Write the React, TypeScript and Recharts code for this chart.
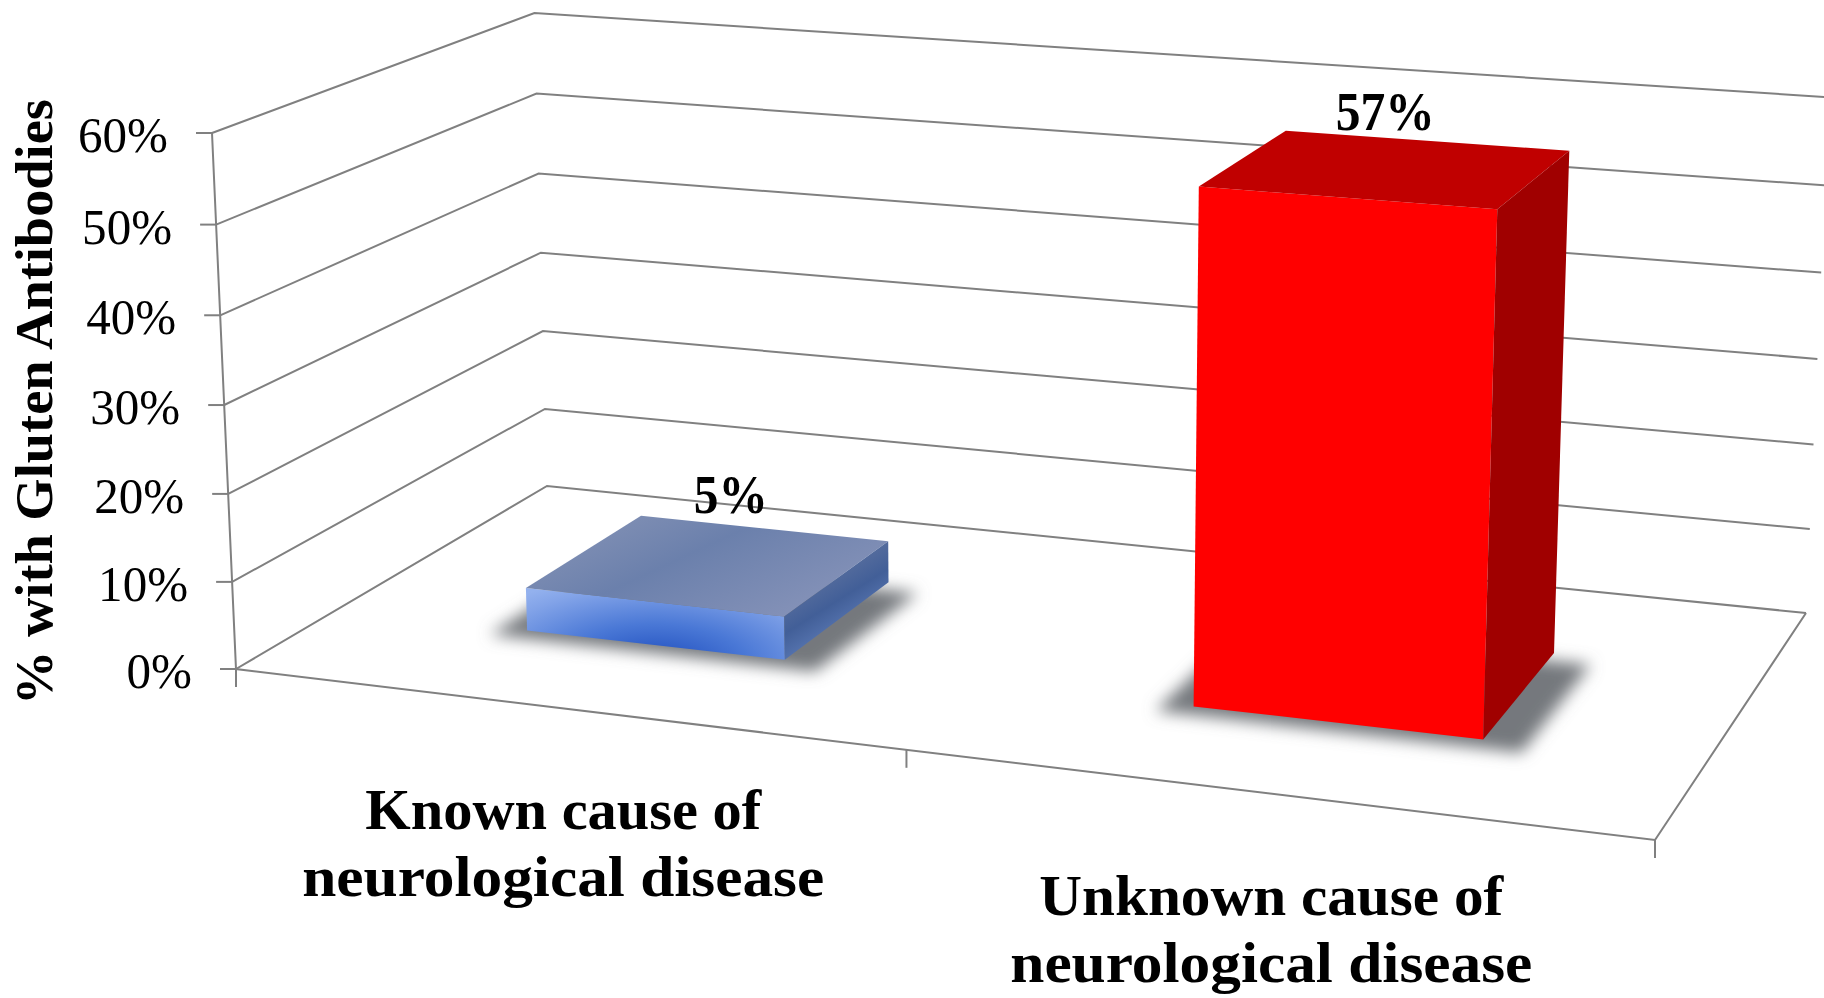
import React from "react";
import { BarChart, Bar, XAxis, YAxis, CartesianGrid, Customized, LabelList } from "recharts";

const categories = ["Known cause of\nneurological disease", "Unknown cause of\nneurological disease"];
const percentWithAntibodies = [5, 57];
const yTicks = [0, 10, 20, 30, 40, 50, 60];
const yTitle = "% with Gluten Antibodies";
const rows = categories.map((category, i) => ({ category, value: percentWithAntibodies[i] }));

const W = 1824;
const H = 998;
const PLOT_W = W - 1;
const PLOT_H = H - 1;
const FONT = "'Liberation Serif', serif";

// Perspective camera, calibrated on the corners of the chart box.
const FLOOR = { fl: [236, 669], fr: [1655, 840], br: [1806, 613], bl: [547, 486] };
const WALL_TOP_Y = 133;
const VERTICAL_VANISHING = [1020, 18180];
const HEIGHT_FALLOFF = 0.015;
const U_SHIFT = 0.003;
const DEPTH_FRONT = 0.3;
const DEPTH_BACK = 0.695;
const LABEL_DEPTH = 0.809;

const cam = (() => {
  const [x0, y0] = FLOOR.fl, [x1, y1] = FLOOR.fr, [x2, y2] = FLOOR.br, [x3, y3] = FLOOR.bl;
  const dx1 = x1 - x2, dx2 = x3 - x2, sx = x0 - x1 + x2 - x3;
  const dy1 = y1 - y2, dy2 = y3 - y2, sy = y0 - y1 + y2 - y3;
  const det = dx1 * dy2 - dx2 * dy1;
  const g = (sx * dy2 - dx2 * sy) / det;
  const h = (dx1 * sy - sx * dy1) / det;
  const a = x1 - x0 + g * x1, b = x3 - x0 + h * x3, c = x0;
  const d = y1 - y0 + g * y1, e = y3 - y0 + h * y3, f = y0;
  const Wv = (f - WALL_TOP_Y) / (WALL_TOP_Y - VERTICAL_VANISHING[1]);
  return { a, b, c, d, e, f, g, h, A: VERTICAL_VANISHING[0] * Wv, B: VERTICAL_VANISHING[1] * Wv, Wv };
})();

function project(u: number, depth: number, value: number): [number, number] {
  const v = value * (1 - HEIGHT_FALLOFF * u);
  const k = cam.g * u + cam.h * depth + 1 + cam.Wv * v;
  return [
    (cam.a * u + cam.b * depth + cam.c + cam.A * v) / k,
    (cam.d * u + cam.e * depth + cam.f + cam.B * v) / k,
  ];
}

const toU = (x: number) => (x - 1) / PLOT_W;
const toV = (y: number) => 1 - y / PLOT_H;

const pts = (list: [number, number][]) => list.map((p) => `${p[0].toFixed(1)},${p[1].toFixed(1)}`).join(" ");
const LINE = { stroke: "#808080", strokeWidth: 2, fill: "none" };

function GridLine(props: any) {
  const v = toV(props.y1);
  return <polyline {...LINE} points={pts([project(0, 0, v), project(0, 1, v), project(1, 1, v)])} />;
}

function Frame() {
  const tickUs = [0, 0.5 + U_SHIFT, 1];
  return (
    <g>
      <polyline {...LINE} points={pts([project(0, 0, 1), project(0, 0, 0), project(1, 0, 0), project(1, 1, 0)])} />
      {tickUs.map((u) => {
        const p = project(u, 0, 0);
        return <line key={u} x1={p[0]} y1={p[1]} x2={p[0]} y2={p[1] + 18} stroke="#808080" strokeWidth={2} />;
      })}
      {yTicks.map((t) => {
        const p = project(0, 0, t / 60);
        return <line key={t} x1={p[0] - 16} y1={p[1]} x2={p[0]} y2={p[1]} stroke="#808080" strokeWidth={2} />;
      })}
    </g>
  );
}

function YTick(props: any) {
  const v = toV(props.y);
  const p = project(0, 0, v);
  const s = `${props.payload.value}%`;
  return (
    <text x={p[0] - 44} y={p[1] + 19} textAnchor="end" fontFamily={FONT} fontSize={50} fill="#000"
      textLength={(s.length - 1) * 24.5 + 41} lengthAdjust="spacingAndGlyphs">{s}</text>
  );
}

const LINE_WIDTHS: Record<string, number> = {
  "Known cause of": 396,
  "Unknown cause of": 464,
  "neurological disease": 522,
};

function XTick(props: any) {
  const u = toU(props.x) + U_SHIFT;
  const p = project(u, 0, 0);
  const lines = String(props.payload.value).split("\n");
  return (
    <g>
      {lines.map((l, i) => (
        <text key={i} x={p[0]} y={p[1] + 121 + i * 67} textAnchor="middle" fontFamily={FONT} fontWeight="bold"
          fontSize={56} fill="#000" textLength={LINE_WIDTHS[l]} lengthAdjust="spacingAndGlyphs">{l}</text>
      ))}
    </g>
  );
}

function Box3D(props: any) {
  const { x, y, width, index } = props;
  const u0 = toU(x) + U_SHIFT, u1 = toU(x + width) + U_SHIFT;
  const v = toV(y);
  const d0 = DEPTH_FRONT, d1 = DEPTH_BACK;
  const front = [project(u0, d0, v), project(u1, d0, v), project(u1, d0, 0), project(u0, d0, 0)] as [number, number][];
  const top = [project(u0, d1, v), project(u1, d1, v), project(u1, d0, v), project(u0, d0, v)] as [number, number][];
  const side = [project(u1, d0, v), project(u1, d1, v), project(u1, d1, 0), project(u1, d0, 0)] as [number, number][];
  const duL = 0.021, duR = 0.03, dd = 0.035;
  const shadow = [project(u0 - duL, d1 - dd, 0), project(u1 + duR, d1 - dd, 0), project(u1 + duR, d0 - dd, 0), project(u0 - duL, d0 - dd, 0)] as [number, number][];
  const isBlue = index === 0;
  return (
    <g>
      <polygon points={pts(shadow)} fill="#74787d" filter="url(#soft)" />
      <polygon points={pts(front)} fill={isBlue ? "url(#blueFront)" : "#ff0000"} />
      <polygon points={pts(top)} fill={isBlue ? "url(#blueTop)" : "#c00000"} />
      <polygon points={pts(side)} fill={isBlue ? "url(#blueSide)" : "#a00000"} />
    </g>
  );
}

function ValueLabel(props: any) {
  const { x, y, width, value } = props;
  const u = toU(x + width / 2) + U_SHIFT;
  const p = project(u, LABEL_DEPTH, toV(y));
  const digits = String(value).length;
  return (
    <text x={p[0] - 62} y={p[1] + 5} textAnchor="middle" fontFamily={FONT} fontWeight="bold" fontSize={54} fill="#000"
      textLength={digits * 25 + 49} lengthAdjust="spacingAndGlyphs">{`${value}%`}</text>
  );
}

function AxisTitle() {
  return (
    <text transform="translate(52,402) rotate(-90)" textAnchor="middle" fontFamily={FONT} fontWeight="bold"
      fontSize={52} fill="#000" textLength={606} lengthAdjust="spacingAndGlyphs">{yTitle}</text>
  );
}

function Defs() {
  return (
    <defs>
      <filter id="soft" x="-20%" y="-30%" width="140%" height="160%">
        <feGaussianBlur stdDeviation="8" />
      </filter>
      <radialGradient id="blueFront" cx="0.5" cy="1.05" r="0.8" gradientTransform="translate(0.5 1) scale(1 1.6) translate(-0.5 -1)">
        <stop offset="0" stopColor="#1a49bb" />
        <stop offset="0.45" stopColor="#4a78d6" />
        <stop offset="0.85" stopColor="#82a3e8" />
        <stop offset="1" stopColor="#93b1ee" />
      </radialGradient>
      <linearGradient id="blueTop" x1="0" y1="0" x2="1" y2="0.6">
        <stop offset="0" stopColor="#8b97b8" />
        <stop offset="0.5" stopColor="#6b80ac" />
        <stop offset="1" stopColor="#8592b8" />
      </linearGradient>
      <linearGradient id="blueSide" x1="0" y1="0" x2="0.55" y2="1">
        <stop offset="0" stopColor="#7c88a8" />
        <stop offset="0.6" stopColor="#425f98" />
        <stop offset="1" stopColor="#6b8ac8" />
      </linearGradient>
    </defs>
  );
}

export default function App() {
  return (
    <div style={{ position: "absolute", left: 0, top: 0, width: W, height: H, background: "#fff" }}>
      <BarChart width={W} height={H} data={rows} margin={{ top: 0, right: 0, bottom: 0, left: 0 }} barSize={365}>
        <Customized component={Defs} />
        <CartesianGrid vertical={false} horizontal={GridLine as any} />
        <Customized component={Frame} />
        <XAxis dataKey="category" height={1} axisLine={false} tickLine={false} interval={0} tick={XTick as any} />
        <YAxis width={1} domain={[0, 60]} ticks={yTicks} axisLine={false} tickLine={false} interval={0} tick={YTick as any} />
        <Customized component={AxisTitle} />
        <Bar dataKey="value" isAnimationActive={false} shape={Box3D as any}>
          <LabelList dataKey="value" content={ValueLabel as any} />
        </Bar>
      </BarChart>
    </div>
  );
}
